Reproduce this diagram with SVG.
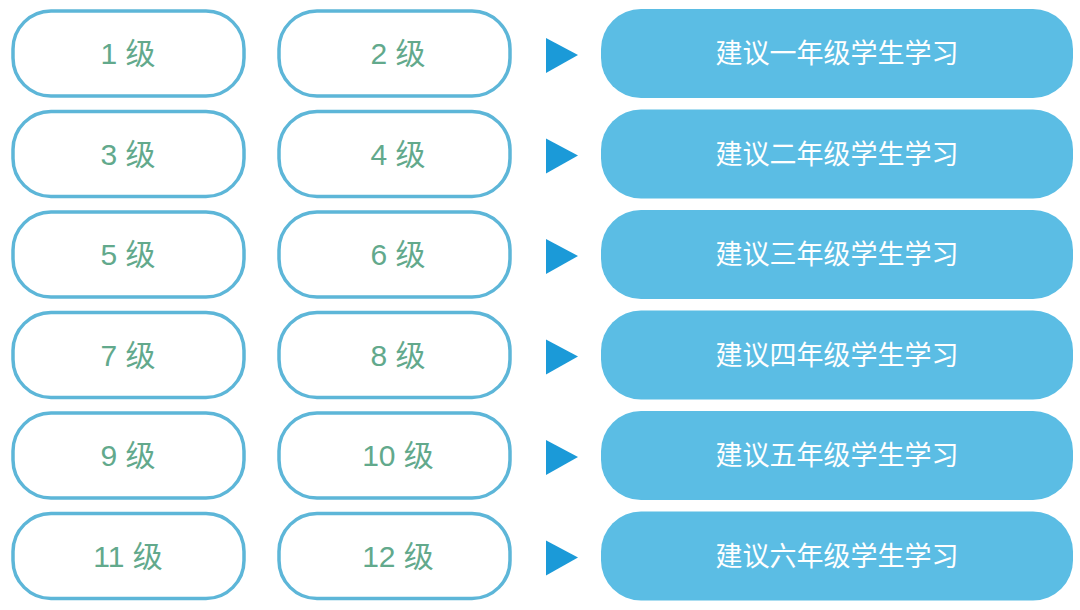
<svg xmlns="http://www.w3.org/2000/svg" width="1080" height="610" viewBox="0 0 1080 610">
<style>
.lv rect{fill:#fff;stroke:#5db6d8;stroke-width:3.5}
.lv text{fill:#62a98c;font-family:"Liberation Sans","Noto Sans CJK SC",sans-serif;font-size:30px;text-anchor:middle}
.gr rect{fill:#5bbde4}
.gr text{fill:#fff;font-family:"Noto Sans CJK SC",sans-serif;font-size:27px;text-anchor:middle}
.ar{fill:#1b9ad8}
</style>
<rect width="1080" height="610" fill="#fff"/>
<g id="r1">
<g id="l1" class="lv"><rect x="13" y="11" width="231" height="85" rx="38"/><text x="128" y="64">1 级</text></g>
<g id="l2" class="lv"><rect x="279" y="11" width="231" height="85" rx="38"/><text x="398" y="64">2 级</text></g>
<g id="g1" class="gr"><rect x="601" y="9" width="472" height="89" rx="40"/><text x="837" y="63">建议一年级学生学习</text></g>
</g>
<g id="r2">
<g id="l3" class="lv"><rect x="13" y="111.5" width="231" height="85" rx="38"/><text x="128" y="164.5">3 级</text></g>
<g id="l4" class="lv"><rect x="279" y="111.5" width="231" height="85" rx="38"/><text x="398" y="164.5">4 级</text></g>
<g id="g2" class="gr"><rect x="601" y="109.5" width="472" height="89" rx="40"/><text x="837" y="163.5">建议二年级学生学习</text></g>
</g>
<g id="r3">
<g id="l5" class="lv"><rect x="13" y="212" width="231" height="85" rx="38"/><text x="128" y="265">5 级</text></g>
<g id="l6" class="lv"><rect x="279" y="212" width="231" height="85" rx="38"/><text x="398" y="265">6 级</text></g>
<g id="g3" class="gr"><rect x="601" y="210" width="472" height="89" rx="40"/><text x="837" y="264">建议三年级学生学习</text></g>
</g>
<g id="r4">
<g id="l7" class="lv"><rect x="13" y="312.5" width="231" height="85" rx="38"/><text x="128" y="365.5">7 级</text></g>
<g id="l8" class="lv"><rect x="279" y="312.5" width="231" height="85" rx="38"/><text x="398" y="365.5">8 级</text></g>
<g id="g4" class="gr"><rect x="601" y="310.5" width="472" height="89" rx="40"/><text x="837" y="364.5">建议四年级学生学习</text></g>
</g>
<g id="r5">
<g id="l9" class="lv"><rect x="13" y="413" width="231" height="85" rx="38"/><text x="128" y="466">9 级</text></g>
<g id="l10" class="lv"><rect x="279" y="413" width="231" height="85" rx="38"/><text x="398" y="466">10 级</text></g>
<g id="g5" class="gr"><rect x="601" y="411" width="472" height="89" rx="40"/><text x="837" y="465">建议五年级学生学习</text></g>
</g>
<g id="r6">
<g id="l11" class="lv"><rect x="13" y="513.5" width="231" height="85" rx="38"/><text x="128" y="566.5">11 级</text></g>
<g id="l12" class="lv"><rect x="279" y="513.5" width="231" height="85" rx="38"/><text x="398" y="566.5">12 级</text></g>
<g id="g6" class="gr"><rect x="601" y="511.5" width="472" height="89" rx="40"/><text x="837" y="565.5">建议六年级学生学习</text></g>
</g>
<g id="connectors" class="ar">
<polygon points="546,38 578,55 546,73"/>
<polygon points="546,138.5 578,155.5 546,173.5"/>
<polygon points="546,239 578,256 546,274"/>
<polygon points="546,339.5 578,356.5 546,374.5"/>
<polygon points="546,440 578,457 546,475"/>
<polygon points="546,540.5 578,557.5 546,575.5"/>
</g>
</svg>
